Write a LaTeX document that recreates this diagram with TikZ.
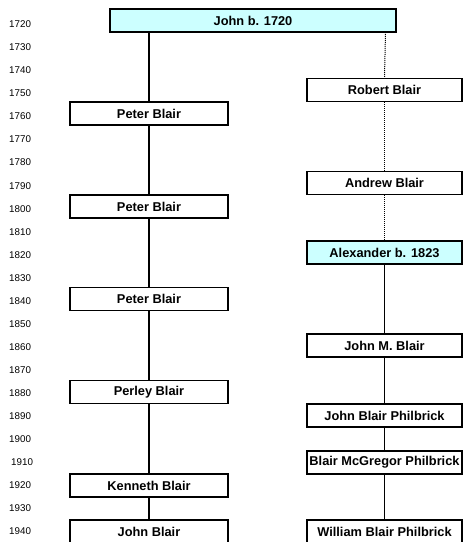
\documentclass[tikz,border=0pt]{standalone}
\usepackage{fontspec}
\setmainfont{Liberation Sans}
\definecolor{paleCyan}{HTML}{CCFFFF}
\begin{document}
\begin{tikzpicture}[x=1pt,y=-1pt,
  person/.style={draw=black, line width=1.4pt, fill=white, minimum height=23pt, inner sep=0pt,
     font=\bfseries\fontsize{12.8}{12.8}\selectfont},
  leftbox/.style={person, minimum width=158pt},
  rightbox/.style={person, minimum width=155pt},
  rootbox/.style={person, fill=paleCyan},
  year/.style={anchor=west, inner sep=0pt, font=\fontsize{9.8}{9.8}\selectfont},
  solidlink/.style={line width=1.4pt},
  dotlink/.style={line width=1pt, dash pattern=on 1pt off 1pt}]
\clip (0,0) rectangle (464,542);
\fill[white] (0,0) rectangle (464,542);
% year axis
\foreach \yr/\yy in {1720/24,1730/47,1740/70,1750/93,1760/116,1770/139,1780/162,1790/186,1800/209,1810/232,1820/255,1830/278,1840/301,1850/324,1860/347,1870/370,1880/393,1890/416,1900/439,1920/485,1930/508,1940/531}
  \node[year] (y\yr) at (9,\yy) {\yr};
\node[year] (y1910) at (11,462) {1910};
% nodes
\node[rootbox, minimum width=286pt] (john) at (253,20.5) {John b. 1720};
\node[leftbox] (peter1) at (149,113.5) {Peter Blair};
\node[leftbox] (peter2) at (149,206.5) {Peter Blair};
\node[leftbox] (peter3) at (149,299) {Peter Blair};
\node[leftbox] (perley) at (149,392) {Perley Blair};
\node[leftbox] (kenneth) at (149,485.5) {Kenneth Blair};
\node[leftbox] (johnb) at (149,531.5) {John Blair};
\node[rightbox] (robert) at (384.5,90) {Robert Blair};
\node[rightbox] (andrew) at (384.5,183) {Andrew Blair};
\node[rootbox, minimum width=155pt] (alex) at (384.5,252.5) {Alexander b. 1823};
\node[rightbox] (johnm) at (384.5,345.5) {John M. Blair};
\node[rightbox] (jbp) at (384.5,415.5) {John Blair Philbrick};
\node[rightbox] (bmp) at (384.5,462.5) {Blair McGregor Philbrick};
\node[rightbox] (wbp) at (384.5,531.5) {William Blair Philbrick};
% connectors
\coordinate (jtop) at (385.5,32);
\draw[solidlink] (john.south -| peter1) -- (peter1.north);
\draw[solidlink] (peter1) -- (peter2);
\draw[solidlink] (peter2) -- (peter3);
\draw[solidlink] (peter3) -- (perley);
\draw[solidlink] (perley) -- (kenneth);
\draw[solidlink] (kenneth) -- (johnb);
\draw[dotlink] (jtop) -- (robert.north);
\draw[dotlink] (robert) -- (andrew);
\draw[dotlink] (andrew) -- (alex);
\draw[solidlink] (alex) -- (johnm);
\draw[solidlink] (johnm) -- (jbp);
\draw[solidlink] (jbp) -- (bmp);
\draw[solidlink] (bmp) -- (wbp);
\end{tikzpicture}
\end{document}
